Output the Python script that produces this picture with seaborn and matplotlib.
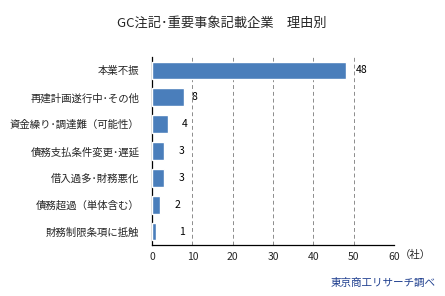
import matplotlib
matplotlib.use("Agg")
import matplotlib.pyplot as plt
import seaborn as sns
import pandas as pd
import numpy as np

categories = ["本業不振", "再建計画遂行中･その他", "資金繰り･調達難（可能性）",
              "債務支払条件変更･遅延", "借入過多･財務悪化", "債務超過（単体含む）",
              "財務制限条項に抵触"]
values = [48, 8, 4, 3, 3, 2, 1]
x_ticks = [0, 10, 20, 30, 40, 50, 60]
title = "GC注記･重要事象記載企業　理由別"
unit = "（社）"
source = "東京商工リサーチ調べ"

sns.set_theme(style="white")
plt.rcParams['font.family'] = ['Noto Sans CJK JP', 'DejaVu Sans']

df = pd.DataFrame({"cat": categories, "val": values})

fig = plt.figure(figsize=(4.45, 2.96), dpi=100)
ax = fig.add_axes([152/445, 1-245/296, (394-152)/445, (245-57)/296])

sns.barplot(data=df, y="cat", x="val", orient="h", color="#4a7ebb",
            saturation=1, width=0.66, ax=ax, zorder=3)

ax.set_xlim(0, 60)
ax.set_ylim(len(categories)-0.5, -0.5)
ax.set_xticks(x_ticks)
ax.set_xticklabels([str(t) for t in x_ticks], fontsize=7.5)
ax.set_xlabel("")
ax.set_ylabel("")
ax.tick_params(axis="y", which="major", length=0, pad=9, labelsize=7.5)
ax.set_yticks(np.arange(-0.5, len(categories)), minor=True)
ax.tick_params(axis="y", which="minor", direction="in", length=3, width=0.8, color="black")
ax.tick_params(axis="x", which="major", length=0, pad=5)

for t in x_ticks[1:]:
    ax.axvline(t, color="#8c8c8c", lw=0.7, ls=(0, (4, 3)), zorder=1)

for s in ["top", "right"]:
    ax.spines[s].set_visible(False)
for s in ["left", "bottom"]:
    ax.spines[s].set_color("black")
    ax.spines[s].set_linewidth(0.9)

offsets_px = [10, 7, 14, 15, 15, 14, 23]
for i, (v, o) in enumerate(zip(values, offsets_px)):
    ax.annotate(str(v), xy=(v, i), xytext=(o*72/100, 0), textcoords="offset points",
                ha="left", va="center", fontsize=7.5, color="black")

fig.text(222/445, 1-23/296, title, ha="center", va="center", fontsize=9.5)
fig.text(400/445, 1-255/296, unit, ha="left", va="center", fontsize=7.5)
fig.text(436/445, 1-283/296, source, ha="right", va="center", fontsize=7.6, color="#1f3f8f")

fig.savefig("out.png", dpi=100)
